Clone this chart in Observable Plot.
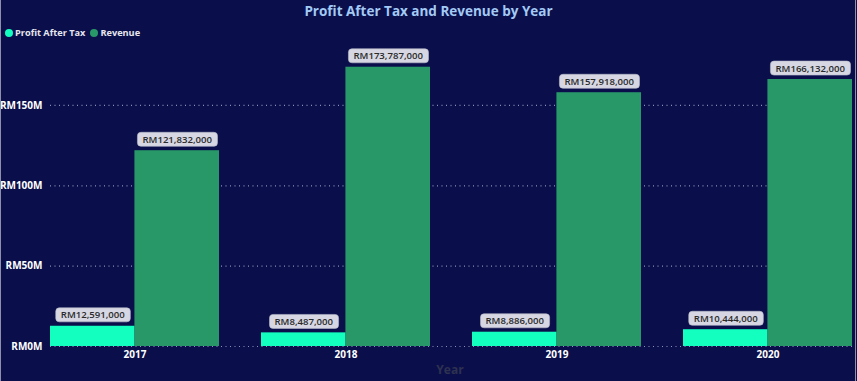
<!DOCTYPE html>
<html><head><meta charset="utf-8">
<script src="https://cdn.jsdelivr.net/npm/d3@7"></script>
<script src="https://cdn.jsdelivr.net/npm/@observablehq/plot@0.6"></script>
<style>
html,body{margin:0;padding:0;background:#0a0f4b;}
#wrap{position:relative;width:857px;height:381px;background:#0a0f4b;overflow:hidden;font-family:"Segoe UI","Open Sans",sans-serif;}
#title{position:absolute;top:0px;left:0;width:857px;text-align:center;color:#a3c9f5;font-weight:700;font-size:13.5px;line-height:22px;}
#legend{position:absolute;top:26px;left:5px;display:flex;align-items:center;color:#e6e6ee;font-weight:700;font-size:9.2px;line-height:14px;}
#legend .dot{display:inline-block;width:8px;height:8px;border-radius:50%;margin-right:2px;}
#legend .item{display:flex;align-items:center;margin-right:5px;}
#ytitle{position:absolute;top:361px;left:0;width:900px;text-align:center;color:#2e3150;font-weight:700;font-size:12px;}
#lb{position:absolute;left:0;top:0;width:1px;height:381px;background:#8d90a8;}
#rb{position:absolute;left:855px;top:0;width:1px;height:381px;background:#8d90a8;}
#chart{position:absolute;left:0;top:0;}
</style></head>
<body>
<div id="wrap">
  <div id="chart"></div>
  <div id="title">Profit After Tax and Revenue by Year</div>
  <div id="legend"></div>
  <div id="ytitle">Year</div>
  <div id="lb"></div><div id="rb"></div>
</div>
<script>
const years = ["2017", "2018", "2019", "2020"];
const series = ["Profit After Tax", "Revenue"];
const profit = [12591000, 8487000, 8886000, 10444000];
const revenue = [121832000, 173787000, 157918000, 166132000];
const yTicks = [0, 50e6, 100e6, 150e6];
const colors = ["#12ffbf", "#289868"];

const profitRows = years.map((y, i) => ({year: y, series: series[0], value: profit[i]}));
const revenueRows = years.map((y, i) => ({year: y, series: series[1], value: revenue[i]}));

// legend
const leg = document.getElementById("legend");
series.forEach((s, i) => {
  const it = document.createElement("div");
  it.className = "item";
  it.innerHTML = `<span class="dot" style="background:${colors[i]}"></span><span>${s}</span>`;
  leg.appendChild(it);
});

const W = 857, H = 381, mL = 50, mR = 5, mT = 45, mB = 35;
const xOpts = {type: "band", domain: years, paddingInner: 0.2, paddingOuter: 0, align: 0.5};
const xs = Plot.scale({x: {...xOpts, range: [mL, W - mR]}});
const bw = xs.bandwidth;

const fmtLabel = v => "RM" + d3.format(",")(v);
const fmtTick = v => "RM" + (v / 1e6) + "M";

const chart = Plot.plot({
  width: W, height: H,
  marginLeft: mL, marginRight: mR, marginTop: mT, marginBottom: mB,
  style: {background: "transparent", color: "#ffffff", fontFamily: "'Segoe UI','Open Sans',sans-serif", fontSize: "10px", fontWeight: "bold"},
  x: {...xOpts, label: null, tickSize: 0, tickPadding: 4},
  y: {domain: [0, 187.3e6], ticks: yTicks, tickFormat: fmtTick, tickSize: 0, tickPadding: 8, label: null},
  marks: [
    Plot.ruleY(yTicks, {stroke: "#8a90b8", strokeDasharray: "1,3.5", strokeWidth: 1.2}),
    Plot.barY(profitRows, {x: "year", y: "value", fill: colors[0], insetRight: bw / 2}),
    Plot.barY(revenueRows, {x: "year", y: "value", fill: colors[1], insetLeft: bw / 2}),
    Plot.text(profitRows, {x: "year", y: "value", text: d => fmtLabel(d.value), dx: -bw / 4, dy: -11, fill: "#2a2a2a", fontWeight: 600, fontSize: 9.6}),
    Plot.text(revenueRows, {x: "year", y: "value", text: d => fmtLabel(d.value), dx: bw / 4, dy: -11, fill: "#2a2a2a", fontWeight: 600, fontSize: 9.6})
  ]
});
document.getElementById("chart").appendChild(chart);

// add rounded boxes behind data labels
const svgRect = chart.getBoundingClientRect();
chart.querySelectorAll('g[aria-label="text"]').forEach(g => {
  g.querySelectorAll("text").forEach(t => {
    const r = t.getBoundingClientRect();
    const rect = document.createElementNS("http://www.w3.org/2000/svg", "rect");
    rect.setAttribute("x", r.left - svgRect.left - 5);
    rect.setAttribute("y", r.top - svgRect.top - 0.5);
    rect.setAttribute("width", r.width + 10);
    rect.setAttribute("height", r.height + 1);
    rect.setAttribute("rx", 3.5);
    rect.setAttribute("fill", "#d6d7e2");
    rect.setAttribute("stroke", "#b8bacb");
    rect.setAttribute("stroke-width", 0.6);
    g.parentNode.insertBefore(rect, g);
  });
});
</script>
</body></html>
